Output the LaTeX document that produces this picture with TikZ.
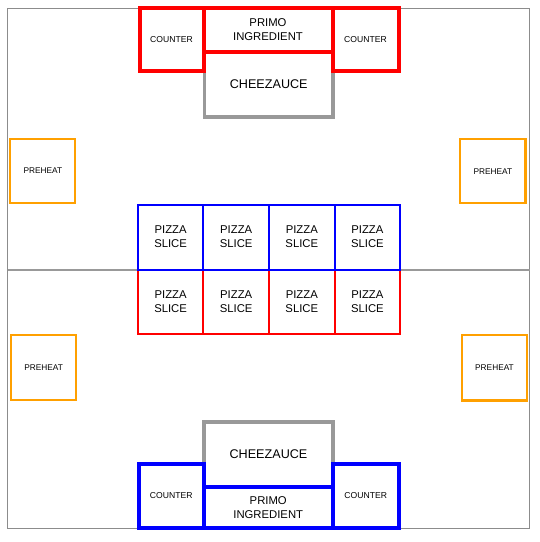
\documentclass[tikz,border=0pt]{standalone}
\usepackage{fontspec}
\setmainfont{Liberation Sans}
\definecolor{rd}{RGB}{255,0,0}
\definecolor{bl}{RGB}{0,0,255}
\definecolor{gr}{RGB}{153,153,153}
\definecolor{fr}{RGB}{140,140,140}
\definecolor{og}{RGB}{255,160,0}
\tikzset{
  box/.style={draw, rectangle, inner sep=0pt, align=center, text=black},
  cheeze/.style={box, draw=gr, line width=3.5pt, font=\fontsize{12.6}{15}\selectfont},
  primo/.style={box, line width=4pt, font=\fontsize{11.3}{14}\selectfont},
  counter/.style={box, line width=4pt, font=\fontsize{8.6}{10}\selectfont},
  preheat/.style={box, draw=og, line width=2.2pt, font=\fontsize{8.3}{10}\selectfont},
  slice/.style={box, line width=2pt, font=\fontsize{11.3}{14}\selectfont},
  frame/.style={draw=fr, line width=1pt, rectangle, inner sep=0pt},
  midline/.style={draw=gr, line width=2.3pt}
}
\begin{document}
\begin{tikzpicture}[x=1pt,y=-1pt]
\useasboundingbox (0,0) rectangle (540,542);
% frame
\node[frame, minimum width=522pt, minimum height=520.2pt] (frame) at (268.7,268.4) {};
\coordinate (ml) at (7.7,270);
\coordinate (mr) at (529.7,270);
\draw[midline] (ml) -- (mr);
% top
\node[cheeze, minimum width=128.5pt, minimum height=65pt] (chtop) at (268.75,84.5) {CHEEZAUCE};
\node[counter, draw=rd, minimum width=64pt, minimum height=62.5pt] (ctl) at (171.5,39.25) {COUNTER};
\node[counter, draw=rd, minimum width=66pt, minimum height=62.5pt] (ctr) at (365.5,39.25) {COUNTER};
\node[primo, draw=rd, minimum width=129pt, minimum height=44pt] (ptop) at (268,30) {PRIMO\\INGREDIENT};
% preheat
\node[preheat, minimum width=65pt, minimum height=64.3pt] (phtl) at (42.8,170.85) {PREHEAT};
\node[preheat, minimum width=65.2pt, minimum height=64.3pt] (phtr) at (492.9,171.15) {PREHEAT};
\node[preheat, minimum width=65.3pt, minimum height=65.3pt] (phbl) at (43.65,367.65) {PREHEAT};
\node[preheat, minimum width=65pt, minimum height=65.5pt] (phbr) at (494.5,367.75) {PREHEAT};
% pizza slices, red row
\node[slice, draw=rd, minimum width=65.6pt, minimum height=64.5pt] (r1) at (170.6,301.75) {PIZZA\\SLICE};
\node[slice, draw=rd, minimum width=65.6pt, minimum height=64.5pt] (r2) at (236.2,301.75) {PIZZA\\SLICE};
\node[slice, draw=rd, minimum width=65.6pt, minimum height=64.5pt] (r3) at (301.8,301.75) {PIZZA\\SLICE};
\node[slice, draw=rd, minimum width=65.6pt, minimum height=64.5pt] (r4) at (367.4,301.75) {PIZZA\\SLICE};
% pizza slices, blue row
\node[slice, draw=bl, minimum width=65.6pt, minimum height=64.8pt] (b1) at (170.6,237.1) {PIZZA\\SLICE};
\node[slice, draw=bl, minimum width=65.6pt, minimum height=64.8pt] (b2) at (236.2,237.1) {PIZZA\\SLICE};
\node[slice, draw=bl, minimum width=65.6pt, minimum height=64.8pt] (b3) at (301.8,237.1) {PIZZA\\SLICE};
\node[slice, draw=bl, minimum width=65.6pt, minimum height=64.8pt] (b4) at (367.4,237.1) {PIZZA\\SLICE};
% bottom
\node[cheeze, minimum width=129pt, minimum height=65pt] (chbot) at (268.5,454.5) {CHEEZAUCE};
\node[counter, draw=bl, minimum width=64.5pt, minimum height=63.5pt] (cbl) at (171.25,495.75) {COUNTER};
\node[counter, draw=bl, minimum width=65.5pt, minimum height=63.5pt] (cbr) at (365.75,495.75) {COUNTER};
\node[primo, draw=bl, minimum width=129.5pt, minimum height=40.5pt] (pbot) at (268.25,507.25) {PRIMO\\INGREDIENT};
\end{tikzpicture}
\end{document}
